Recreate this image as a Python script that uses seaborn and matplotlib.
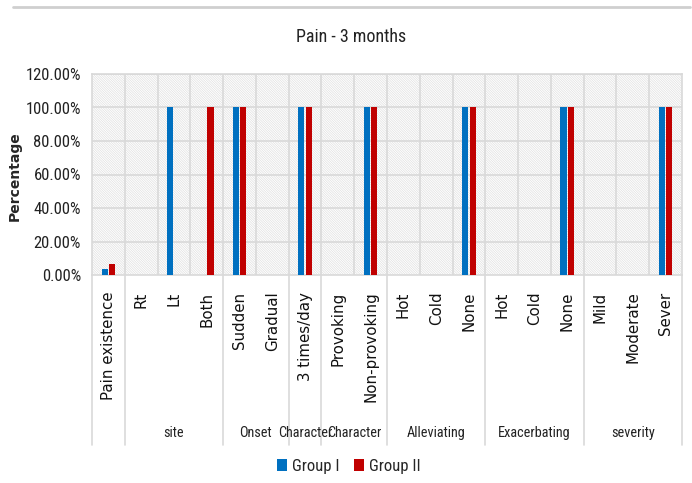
import matplotlib
matplotlib.use("Agg")
import matplotlib.pyplot as plt
from matplotlib import font_manager
from matplotlib.lines import Line2D
from matplotlib.patches import Rectangle, Patch
import matplotlib.transforms as mtransforms
import numpy as np
import pandas as pd
import seaborn as sns

# ---- data -------------------------------------------------------------
categories = ["Pain existence", "Rt", "Lt", "Both", "Sudden", "Gradual",
              "3 times/day", "Provoking", "Non-provoking",
              "Hot", "Cold", "None", "Hot", "Cold", "None",
              "Mild", "Moderate", "Sever"]
group_names = ["", "site", "Onset", "Character", "Character",
               "Alleviating", "Exacerbating", "severity"]
group_sizes = [1, 3, 2, 1, 2, 3, 3, 3]
group_1 = [3.3, 0, 100, 0, 100, 0, 100, 0, 100, 0, 0, 100, 0, 0, 100, 0, 0, 100]
group_2 = [6.7, 0, 0, 100, 100, 0, 100, 0, 100, 0, 0, 100, 0, 0, 100, 0, 0, 100]
series_names = ["Group I", "Group II"]
y_ticks = [0, 20, 40, 60, 80, 100, 120]
title = "Pain - 3 months"
y_label = "Percentage"

# ---- fonts ------------------------------------------------------------
def pick_font(candidates):
    for name in candidates:
        try:
            font_manager.findfont(name, fallback_to_default=False)
            return name
        except Exception:
            continue
    return "DejaVu Sans"

narrow = pick_font(["Liberation Sans Narrow", "Roboto Condensed", "Open Sans Condensed",
                    "Noto Sans", "Liberation Sans"])
wide = "DejaVu Sans"

sns.set_theme(style="white")
plt.rcParams["font.family"] = [narrow, "DejaVu Sans"]
plt.rcParams["hatch.linewidth"] = 0.5

# ---- long table with unique keys (labels repeat across groups) --------
keys = [f"{i:02d}_{c}" for i, c in enumerate(categories)]
df = pd.DataFrame({
    "key": keys * 2,
    "value": group_1 + group_2,
    "series": [series_names[0]] * len(keys) + [series_names[1]] * len(keys),
})

W, H, DPI = 692, 483, 100
fig = plt.figure(figsize=(W / DPI, H / DPI), dpi=DPI)
ax_l, ax_r, ax_t, ax_b = 92, 682, 74, 275
ax = fig.add_axes([ax_l / W, 1 - ax_b / H, (ax_r - ax_l) / W, (ax_b - ax_t) / H])

grid_c = "#d9d9d9"
colors = ["#0070C0", "#C00000"]

# hatched plot background
bg = Rectangle((0, 0), 1, 1, transform=ax.transAxes, facecolor="white",
               edgecolor="#e0e0e0", linewidth=0, hatch="\\" * 14, zorder=0)
ax.add_patch(bg)

sns.barplot(data=df, x="key", y="value", hue="series", order=keys,
            palette=colors, width=0.46, gap=0.2, linewidth=0,
            saturation=1, legend=True, ax=ax, zorder=3)

n = len(categories)
ax.set_xlim(-0.5, n - 0.5)
ax.set_ylim(0, 120)
ax.set_yticks(y_ticks)
ax.set_yticklabels([f"{v:.2f}%" for v in y_ticks], fontsize=12, color="#222222")

# grid: category boundaries and value lines
for b in np.arange(0.5, n - 0.5, 1):
    ax.axvline(b, color=grid_c, lw=1.2, zorder=1)
for t in y_ticks[1:]:
    ax.axhline(t, color=grid_c, lw=1.2, zorder=1)
for s in ax.spines.values():
    s.set_color(grid_c)
    s.set_linewidth(1.2)

ax.set_xticks(range(n))
ax.set_xticklabels(categories, rotation=90, fontsize=10.8, family=wide,
                   color="#111111", va="top", ha="center")
ax.tick_params(axis="both", length=0)
ax.tick_params(axis="x", pad=12)
ax.tick_params(axis="y", pad=8)
ax.set_xlabel("")
ax.set_ylabel(y_label, fontsize=10, fontweight="bold", family=wide)
ax.yaxis.set_label_coords((22 - ax_l) / (ax_r - ax_l), (ax_b - 176) / (ax_b - ax_t))

# group separators and group labels below the axis
trans = mtransforms.blended_transform_factory(ax.transData, ax.transAxes)
bottom = -(445 - ax_b) / (ax_b - ax_t)
label_y = -(433 - ax_b) / (ax_b - ax_t)
edges = np.concatenate([[0], np.cumsum(group_sizes)]) - 0.5
for e in edges:
    ax.add_line(Line2D([e, e], [0, bottom], transform=trans, color=grid_c,
                       lw=1.2, clip_on=False))
for name, a, b in zip(group_names, edges[:-1], edges[1:]):
    if name:
        ax.text((a + b) / 2, label_y, name, transform=trans, ha="center",
                va="center", fontsize=10.3, color="#222222")

ax.set_title(title, fontsize=13, color="#222222", pad=23, x=(351 - ax_l) / (ax_r - ax_l))

# legend at the bottom
ax.get_legend().remove()
handles = [Patch(facecolor=c, edgecolor="none") for c in colors]
fig.legend(handles, series_names, loc="center", bbox_to_anchor=(349 / W, 1 - 466 / H),
           ncol=2, frameon=False, fontsize=12, handlelength=0.6, handleheight=0.7,
           handletextpad=0.3, columnspacing=0.9)

# thin rule across the top
fig.add_artist(Line2D([13 / W, 690 / W], [1 - 6.5 / H, 1 - 6.5 / H],
                      color="#cfcfcf", lw=2, transform=fig.transFigure))

fig.savefig("out.png", dpi=DPI, facecolor="white")
